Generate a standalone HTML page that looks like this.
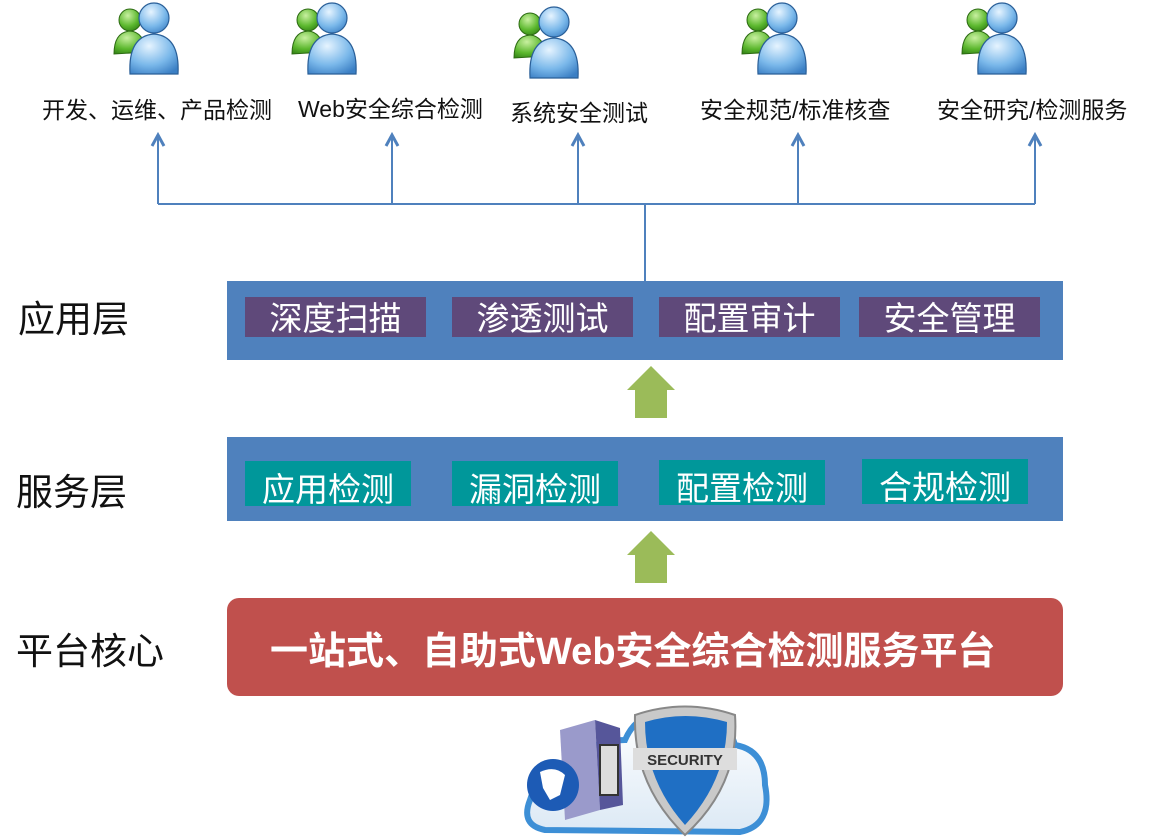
<!DOCTYPE html>
<html><head><meta charset="utf-8">
<style>
body{margin:0;width:1149px;height:838px;background:#fff;position:relative;overflow:hidden;font-family:"Liberation Sans","Noto Sans CJK SC",sans-serif;}
.a{position:absolute;white-space:nowrap;}
.lbl{font-size:23px;color:#111;}
.side{font-size:37px;color:#111;line-height:44px;}
.bar{position:absolute;left:227px;width:836px;background:#4f81bd;}
.pb{position:absolute;top:297px;height:40px;width:181px;background:#5f497a;color:#fff;font-size:33px;text-align:center;line-height:44px;}
.tb{position:absolute;top:461px;height:45px;width:166px;background:#00979a;color:#fff;font-size:33px;text-align:center;line-height:58px;overflow:hidden;}
</style></head><body>
<svg width="0" height="0" style="position:absolute">
<defs>
<radialGradient id="gb" cx="0.4" cy="0.3" r="0.8"><stop offset="0" stop-color="#e6f4ff"/><stop offset="0.6" stop-color="#7ab8ea"/><stop offset="1" stop-color="#3b7fc4"/></radialGradient>
<radialGradient id="gg" cx="0.4" cy="0.3" r="0.8"><stop offset="0" stop-color="#c8f0a0"/><stop offset="0.6" stop-color="#5cb82e"/><stop offset="1" stop-color="#2f7d14"/></radialGradient>
<g id="ppl">
<circle cx="18" cy="18" r="11" fill="url(#gg)" stroke="#2c6a12" stroke-width="1"/>
<path d="M2 52 Q2 30 18 29 Q32 30 34 50 Z" fill="url(#gg)" stroke="#2c6a12"/>
<circle cx="42" cy="16" r="15" fill="url(#gb)" stroke="#2a5f98" stroke-width="1.2"/>
<path d="M18 72 Q16 34 42 32 Q68 34 66 72 Z" fill="url(#gb)" stroke="#2a5f98" stroke-width="1.2"/>
</g>
</defs></svg>
<svg class="a" style="left:0;top:0" width="1149" height="290">
<use href="#ppl" x="112" y="2"/>
<use href="#ppl" x="290" y="2"/>
<use href="#ppl" x="512" y="6"/>
<use href="#ppl" x="740" y="2"/>
<use href="#ppl" x="960" y="2"/>
<g stroke="#4f81bd" stroke-width="2" fill="none">
<path d="M158 204H1035"/><path d="M645 204V281"/>
<path d="M158 204V136M392 204V136M578 204V136M798 204V136M1035 204V136"/>
<path d="M152 146L158 135L164 146M386 146L392 135L398 146M572 146L578 135L584 146M792 146L798 135L804 146M1029 146L1035 135L1041 146" stroke-width="3"/>
</g>
</svg>
<div class="a lbl" style="left:42px;top:91px">开发、运维、产品检测</div>
<div class="a lbl" style="left:298px;top:90px">Web安全综合检测</div>
<div class="a lbl" style="left:510px;top:94px">系统安全测试</div>
<div class="a lbl" style="left:700px;top:91px">安全规范/标准核查</div>
<div class="a lbl" style="left:937px;top:91px">安全研究/检测服务</div>

<div class="a side" style="left:18px;top:298px">应用层</div>
<div class="a side" style="left:16px;top:471px">服务层</div>
<div class="a side" style="left:16px;top:630px">平台核心</div>

<div class="bar" style="top:281px;height:79px"></div>
<div class="pb" style="left:245px">深度扫描</div>
<div class="pb" style="left:452px">渗透测试</div>
<div class="pb" style="left:659px">配置审计</div>
<div class="pb" style="left:859px">安全管理</div>

<svg class="a" style="left:627px;top:366px" width="48" height="53"><path d="M24 0L48 24H40V52H8V24H0Z" fill="#9bbb59"/></svg>

<div class="bar" style="top:437px;height:84px"></div>
<div class="tb" style="left:245px">应用检测</div>
<div class="tb" style="left:452px">漏洞检测</div>
<div class="tb" style="left:659px;top:460px">配置检测</div>
<div class="tb" style="left:862px;top:459px">合规检测</div>

<svg class="a" style="left:627px;top:531px" width="48" height="53"><path d="M24 0L48 24H40V52H8V24H0Z" fill="#9bbb59"/></svg>

<div class="a" style="left:227px;top:598px;width:836px;height:98px;background:#c0504d;border-radius:12px;"></div>
<div class="a" style="left:270px;top:620px;font-size:38px;font-weight:bold;color:#fff;">一站式、自助式Web安全综合检测服务平台</div>

<svg class="a" style="left:515px;top:700px" width="260" height="138">
<defs><linearGradient id="cl" x1="0" y1="0" x2="0" y2="1"><stop offset="0" stop-color="#fff"/><stop offset="1" stop-color="#dce9f5"/></linearGradient></defs>
<path d="M30 130 Q5 125 15 100 Q20 80 50 85 Q60 40 110 40 Q125 5 170 15 Q210 10 220 45 Q250 50 250 85 Q258 125 225 132 Z" fill="url(#cl)" stroke="#3d8fd6" stroke-width="6"/>
<path d="M45 30L80 20L85 110L50 120Z" fill="#9a9acb"/><path d="M80 20L105 28L108 105L85 110Z" fill="#56569a"/>
<rect x="85" y="45" width="18" height="50" fill="#ddd" stroke="#333" stroke-width="2"/>
<circle cx="38" cy="85" r="26" fill="#1d5bb5"/><path d="M25 72Q40 65 50 75L45 95L35 100L28 88Z" fill="#fff"/>
<path d="M120 15Q170 -2 220 15Q225 85 170 135Q118 85 120 15Z" fill="#c9c9c9" stroke="#888" stroke-width="2"/>
<path d="M130 22Q170 10 212 22Q212 80 170 125Q130 80 130 22Z" fill="#1f6fc4"/>
<rect x="118" y="48" width="104" height="22" fill="#ddd"/>
<text x="170" y="65" font-family="Liberation Sans" font-weight="bold" font-size="15" text-anchor="middle" fill="#333">SECURITY</text>
</svg>
</body></html>
